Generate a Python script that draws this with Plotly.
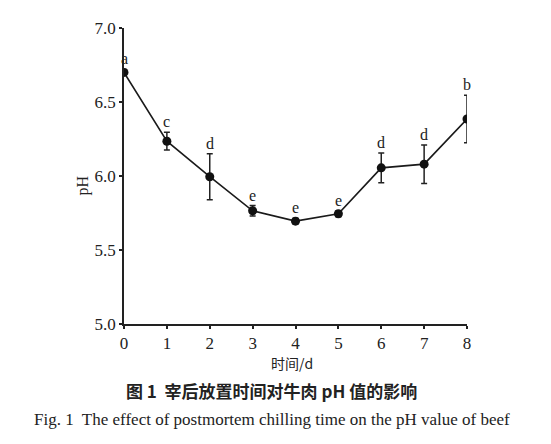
import plotly.graph_objects as go

# pH of beef vs. postmortem chilling time
days = [0, 1, 2, 3, 4, 5, 6, 7, 8]
ph_mean = [6.70, 6.235, 5.995, 5.765, 5.695, 5.745, 6.055, 6.08, 6.385]
ph_err = [0.02, 0.06, 0.155, 0.035, 0.02, 0.02, 0.10, 0.13, 0.16]
sig_letters = ["a", "c", "d", "e", "e", "e", "d", "d", "b"]

x_ticks = [0, 1, 2, 3, 4, 5, 6, 7, 8]
y_ticks = [5.0, 5.5, 6.0, 6.5, 7.0]

serif = "Liberation Serif, Times New Roman, serif"
cjk = "Noto Sans CJK SC, sans-serif"

fig = go.Figure()

fig.add_trace(
    go.Scatter(
        x=days,
        y=ph_mean,
        mode="lines+markers",
        line=dict(color="#1a1a1a", width=1.6),
        marker=dict(color="#111111", size=9, symbol="circle"),
        error_y=dict(type="data", array=ph_err, visible=True,
                     color="#222222", thickness=1.5, width=3),
        showlegend=False,
    )
)

# significance letters sit just above the error bars
for d, m, e, s in zip(days, ph_mean, ph_err, sig_letters):
    fig.add_annotation(
        x=d, y=m + e, text=s, showarrow=False,
        yanchor="bottom", yshift=0,
        font=dict(family=serif, size=16, color="#222222"),
    )

fig.update_xaxes(
    range=[0, 8], tickvals=x_ticks,
    showline=True, linecolor="#222222", linewidth=1.5,
    ticks="outside", ticklen=3, tickcolor="#222222", tickwidth=1.5,
    showgrid=False, zeroline=False,
    tickfont=dict(family=serif, size=17, color="#222222"),
)
fig.update_yaxes(
    range=[5.0, 7.0], tickvals=y_ticks, tickformat=".1f",
    showline=True, linecolor="#222222", linewidth=1.5,
    ticks="outside", ticklen=3, tickcolor="#222222", tickwidth=1.5,
    showgrid=False, zeroline=False,
    tickfont=dict(family=serif, size=17, color="#222222"),
)

# axis titles and figure captions
fig.add_annotation(
    xref="paper", yref="paper", x=-0.1195, y=0.468, text="pH",
    textangle=-90, showarrow=False, xanchor="center", yanchor="middle",
    font=dict(family=serif, size=16, color="#222222"),
)
fig.add_annotation(
    xref="paper", yref="paper", x=0.49, y=-0.131, text="时间/d",
    showarrow=False, xanchor="center", yanchor="middle",
    font=dict(family=cjk, size=14, color="#222222"),
)
fig.add_annotation(
    xref="paper", yref="paper", x=0.431, y=-0.225,
    text="<b>图 1  宰后放置时间对牛肉 pH 值的影响</b>",
    showarrow=False, xanchor="center", yanchor="middle",
    font=dict(family=cjk, size=17, color="#222222"),
)
fig.add_annotation(
    xref="paper", yref="paper", x=0.432, y=-0.322,
    text="Fig. 1  The effect of postmortem chilling time on the pH value of beef",
    showarrow=False, xanchor="center", yanchor="middle",
    font=dict(family=serif, size=17, color="#222222"),
)

fig.update_layout(
    width=543, height=436,
    margin=dict(l=116, r=84, t=11, b=120),
    plot_bgcolor="white", paper_bgcolor="white",
)

fig.write_html("out.html")
